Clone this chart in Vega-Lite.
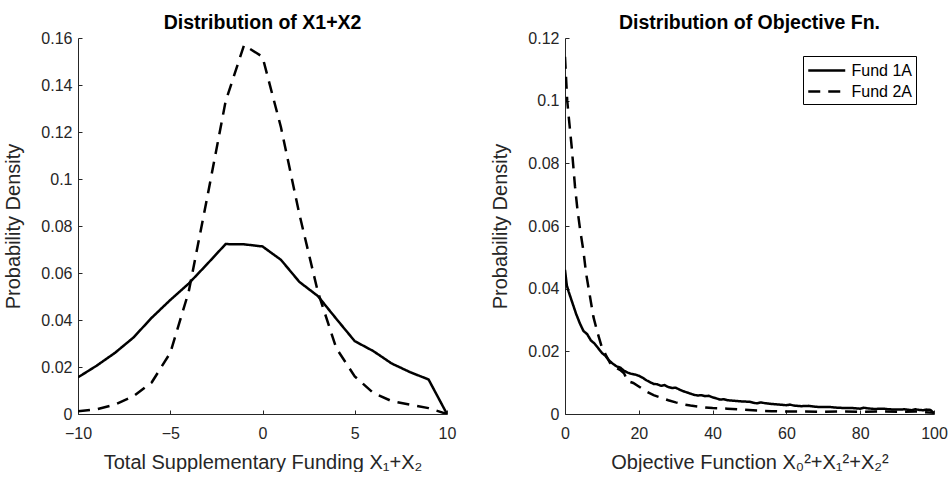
{
  "$schema": "https://vega.github.io/schema/vega-lite/v6.json",
  "background": "white",
  "padding": {"left": 3, "top": 12, "right": 5, "bottom": 0},
  "config": {
    "font": "Liberation Sans",
    "view": {"stroke": null},
    "axis": {
      "grid": false,
      "domainColor": "#262626",
      "tickColor": "#262626",
      "labelColor": "#262626",
      "titleColor": "#262626",
      "labelFontSize": 16,
      "titleFontSize": 20,
      "titleFontWeight": "normal",
      "tickSize": -4,
      "labelFlush": false,
      "labelOverlap": false,
      "domainWidth": 1
    },
    "axisX": {"labelPadding": 15, "titlePadding": 11},
    "axisY": {"labelPadding": 10, "titlePadding": 17},
    "title": {"fontSize": 19.5, "fontWeight": "bold", "color": "black", "anchor": "middle", "offset": -3},
    "concat": {"spacing": 34}
  },
  "resolve": {"scale": {"strokeDash": "independent"}, "legend": {"strokeDash": "independent"}},
  "datasets": {
    "left": [
      {"series": "Fund 1A", "x": -10, "y": 0.0156},
      {"series": "Fund 1A", "x": -9, "y": 0.0205},
      {"series": "Fund 1A", "x": -8, "y": 0.026},
      {"series": "Fund 1A", "x": -7, "y": 0.0325},
      {"series": "Fund 1A", "x": -6, "y": 0.041},
      {"series": "Fund 1A", "x": -5, "y": 0.0485},
      {"series": "Fund 1A", "x": -4, "y": 0.0555},
      {"series": "Fund 1A", "x": -3, "y": 0.0638},
      {"series": "Fund 1A", "x": -2, "y": 0.0723},
      {"series": "Fund 1A", "x": -1, "y": 0.0722},
      {"series": "Fund 1A", "x": 0, "y": 0.0713},
      {"series": "Fund 1A", "x": 1, "y": 0.0656},
      {"series": "Fund 1A", "x": 2, "y": 0.0562},
      {"series": "Fund 1A", "x": 3, "y": 0.0502},
      {"series": "Fund 1A", "x": 4, "y": 0.0405},
      {"series": "Fund 1A", "x": 5, "y": 0.031},
      {"series": "Fund 1A", "x": 6, "y": 0.0268},
      {"series": "Fund 1A", "x": 7, "y": 0.0215},
      {"series": "Fund 1A", "x": 8, "y": 0.0178},
      {"series": "Fund 1A", "x": 9, "y": 0.0147},
      {"series": "Fund 1A", "x": 10, "y": 0.0},
      {"series": "Fund 2A", "x": -10, "y": 0.0012},
      {"series": "Fund 2A", "x": -9, "y": 0.002},
      {"series": "Fund 2A", "x": -8, "y": 0.004},
      {"series": "Fund 2A", "x": -7, "y": 0.0075},
      {"series": "Fund 2A", "x": -6, "y": 0.0135},
      {"series": "Fund 2A", "x": -5, "y": 0.026},
      {"series": "Fund 2A", "x": -4, "y": 0.052},
      {"series": "Fund 2A", "x": -3, "y": 0.092},
      {"series": "Fund 2A", "x": -2, "y": 0.133},
      {"series": "Fund 2A", "x": -1, "y": 0.157},
      {"series": "Fund 2A", "x": 0, "y": 0.152},
      {"series": "Fund 2A", "x": 1, "y": 0.122},
      {"series": "Fund 2A", "x": 2, "y": 0.085},
      {"series": "Fund 2A", "x": 3, "y": 0.052},
      {"series": "Fund 2A", "x": 4, "y": 0.028},
      {"series": "Fund 2A", "x": 5, "y": 0.016},
      {"series": "Fund 2A", "x": 6, "y": 0.009},
      {"series": "Fund 2A", "x": 7, "y": 0.0055},
      {"series": "Fund 2A", "x": 8, "y": 0.004},
      {"series": "Fund 2A", "x": 9, "y": 0.0025},
      {"series": "Fund 2A", "x": 10, "y": 0.0}
    ],
    "right": [
      {"series": "Fund 1A", "x": 0, "y": 0.046},
      {"series": "Fund 1A", "x": 0.5, "y": 0.041},
      {"series": "Fund 1A", "x": 1, "y": 0.039},
      {"series": "Fund 1A", "x": 2, "y": 0.0355},
      {"series": "Fund 1A", "x": 3, "y": 0.032},
      {"series": "Fund 1A", "x": 4, "y": 0.029},
      {"series": "Fund 1A", "x": 5, "y": 0.0265},
      {"series": "Fund 1A", "x": 6, "y": 0.0255},
      {"series": "Fund 1A", "x": 7, "y": 0.0235},
      {"series": "Fund 1A", "x": 8, "y": 0.0225},
      {"series": "Fund 1A", "x": 9, "y": 0.021},
      {"series": "Fund 1A", "x": 10, "y": 0.0195},
      {"series": "Fund 1A", "x": 11, "y": 0.0185},
      {"series": "Fund 1A", "x": 12, "y": 0.017},
      {"series": "Fund 1A", "x": 13, "y": 0.016},
      {"series": "Fund 1A", "x": 14, "y": 0.0152},
      {"series": "Fund 1A", "x": 15, "y": 0.0148},
      {"series": "Fund 1A", "x": 16, "y": 0.0138},
      {"series": "Fund 1A", "x": 17, "y": 0.0132},
      {"series": "Fund 1A", "x": 18, "y": 0.0128},
      {"series": "Fund 1A", "x": 19, "y": 0.0126},
      {"series": "Fund 1A", "x": 20, "y": 0.0122},
      {"series": "Fund 1A", "x": 21, "y": 0.0116},
      {"series": "Fund 1A", "x": 22, "y": 0.0108},
      {"series": "Fund 1A", "x": 23, "y": 0.0102},
      {"series": "Fund 1A", "x": 24, "y": 0.0096},
      {"series": "Fund 1A", "x": 25, "y": 0.0095},
      {"series": "Fund 1A", "x": 26, "y": 0.009},
      {"series": "Fund 1A", "x": 27, "y": 0.0092},
      {"series": "Fund 1A", "x": 28, "y": 0.0086},
      {"series": "Fund 1A", "x": 29, "y": 0.0083},
      {"series": "Fund 1A", "x": 30, "y": 0.0084},
      {"series": "Fund 1A", "x": 31, "y": 0.0078},
      {"series": "Fund 1A", "x": 32, "y": 0.0073},
      {"series": "Fund 1A", "x": 33, "y": 0.0069},
      {"series": "Fund 1A", "x": 34, "y": 0.0065},
      {"series": "Fund 1A", "x": 35, "y": 0.0061},
      {"series": "Fund 1A", "x": 36, "y": 0.0059},
      {"series": "Fund 1A", "x": 37, "y": 0.006},
      {"series": "Fund 1A", "x": 38, "y": 0.0057},
      {"series": "Fund 1A", "x": 39, "y": 0.0058},
      {"series": "Fund 1A", "x": 40, "y": 0.0053},
      {"series": "Fund 1A", "x": 41, "y": 0.005},
      {"series": "Fund 1A", "x": 42, "y": 0.0046},
      {"series": "Fund 1A", "x": 43, "y": 0.0047},
      {"series": "Fund 1A", "x": 44, "y": 0.0044},
      {"series": "Fund 1A", "x": 45, "y": 0.0043},
      {"series": "Fund 1A", "x": 46, "y": 0.0042},
      {"series": "Fund 1A", "x": 48, "y": 0.004},
      {"series": "Fund 1A", "x": 50, "y": 0.0039},
      {"series": "Fund 1A", "x": 51, "y": 0.0036},
      {"series": "Fund 1A", "x": 52, "y": 0.0034},
      {"series": "Fund 1A", "x": 53, "y": 0.0037},
      {"series": "Fund 1A", "x": 54, "y": 0.0035},
      {"series": "Fund 1A", "x": 56, "y": 0.0032},
      {"series": "Fund 1A", "x": 58, "y": 0.003},
      {"series": "Fund 1A", "x": 60, "y": 0.0028},
      {"series": "Fund 1A", "x": 61, "y": 0.003},
      {"series": "Fund 1A", "x": 62, "y": 0.0027},
      {"series": "Fund 1A", "x": 64, "y": 0.0025},
      {"series": "Fund 1A", "x": 66, "y": 0.0026},
      {"series": "Fund 1A", "x": 68, "y": 0.0023},
      {"series": "Fund 1A", "x": 70, "y": 0.0022},
      {"series": "Fund 1A", "x": 72, "y": 0.0022},
      {"series": "Fund 1A", "x": 74, "y": 0.002},
      {"series": "Fund 1A", "x": 76, "y": 0.0019},
      {"series": "Fund 1A", "x": 78, "y": 0.0019},
      {"series": "Fund 1A", "x": 80, "y": 0.0017},
      {"series": "Fund 1A", "x": 81, "y": 0.002},
      {"series": "Fund 1A", "x": 82, "y": 0.0018},
      {"series": "Fund 1A", "x": 84, "y": 0.0016},
      {"series": "Fund 1A", "x": 86, "y": 0.0017},
      {"series": "Fund 1A", "x": 88, "y": 0.0015},
      {"series": "Fund 1A", "x": 90, "y": 0.0014},
      {"series": "Fund 1A", "x": 92, "y": 0.0015},
      {"series": "Fund 1A", "x": 94, "y": 0.0012},
      {"series": "Fund 1A", "x": 95, "y": 0.0015},
      {"series": "Fund 1A", "x": 96, "y": 0.0013},
      {"series": "Fund 1A", "x": 97, "y": 0.0012},
      {"series": "Fund 1A", "x": 98, "y": 0.0014},
      {"series": "Fund 1A", "x": 99, "y": 0.0013},
      {"series": "Fund 1A", "x": 100, "y": 0.0003},
      {"series": "Fund 2A", "x": 0, "y": 0.114},
      {"series": "Fund 2A", "x": 0.3, "y": 0.107},
      {"series": "Fund 2A", "x": 0.6, "y": 0.1},
      {"series": "Fund 2A", "x": 1, "y": 0.095},
      {"series": "Fund 2A", "x": 1.8, "y": 0.0854},
      {"series": "Fund 2A", "x": 2.7, "y": 0.0727},
      {"series": "Fund 2A", "x": 3.4, "y": 0.065},
      {"series": "Fund 2A", "x": 4.1, "y": 0.0588},
      {"series": "Fund 2A", "x": 5, "y": 0.052},
      {"series": "Fund 2A", "x": 5.7, "y": 0.045},
      {"series": "Fund 2A", "x": 6.7, "y": 0.038},
      {"series": "Fund 2A", "x": 7.7, "y": 0.031},
      {"series": "Fund 2A", "x": 8.8, "y": 0.026},
      {"series": "Fund 2A", "x": 9.9, "y": 0.0216},
      {"series": "Fund 2A", "x": 11, "y": 0.019},
      {"series": "Fund 2A", "x": 12.2, "y": 0.0163},
      {"series": "Fund 2A", "x": 13.5, "y": 0.015},
      {"series": "Fund 2A", "x": 14.9, "y": 0.0141},
      {"series": "Fund 2A", "x": 16, "y": 0.013},
      {"series": "Fund 2A", "x": 17, "y": 0.0105},
      {"series": "Fund 2A", "x": 18.5, "y": 0.0099},
      {"series": "Fund 2A", "x": 20, "y": 0.0088},
      {"series": "Fund 2A", "x": 22, "y": 0.0072},
      {"series": "Fund 2A", "x": 24, "y": 0.006},
      {"series": "Fund 2A", "x": 26, "y": 0.0052},
      {"series": "Fund 2A", "x": 28, "y": 0.0044},
      {"series": "Fund 2A", "x": 30, "y": 0.0037},
      {"series": "Fund 2A", "x": 32, "y": 0.0031},
      {"series": "Fund 2A", "x": 34, "y": 0.0027},
      {"series": "Fund 2A", "x": 36, "y": 0.0024},
      {"series": "Fund 2A", "x": 38, "y": 0.0021},
      {"series": "Fund 2A", "x": 40, "y": 0.0019},
      {"series": "Fund 2A", "x": 44, "y": 0.0017},
      {"series": "Fund 2A", "x": 48, "y": 0.0014},
      {"series": "Fund 2A", "x": 52, "y": 0.0011},
      {"series": "Fund 2A", "x": 56, "y": 0.0009},
      {"series": "Fund 2A", "x": 60, "y": 0.0008},
      {"series": "Fund 2A", "x": 65, "y": 0.0008},
      {"series": "Fund 2A", "x": 70, "y": 0.0007},
      {"series": "Fund 2A", "x": 75, "y": 0.0008},
      {"series": "Fund 2A", "x": 80, "y": 0.0007},
      {"series": "Fund 2A", "x": 85, "y": 0.0008},
      {"series": "Fund 2A", "x": 90, "y": 0.0007},
      {"series": "Fund 2A", "x": 95, "y": 0.0008},
      {"series": "Fund 2A", "x": 100, "y": 0.0004}
    ]
  },
  "hconcat": [
    {
      "width": 369,
      "height": 376,
      "title": "Distribution of X1+X2",
      "data": {"name": "left"},
      "mark": {"type": "line", "color": "black", "strokeWidth": 2.5, "clip": true},
      "encoding": {
        "x": {"field": "x", "type": "quantitative", "scale": {"domain": [-10, 10], "nice": false},
              "axis": {"values": [-10, -5, 0, 5, 10], "title": "Total Supplementary Funding X₁+X₂"}},
        "y": {"field": "y", "type": "quantitative", "scale": {"domain": [0, 0.16], "nice": false},
              "axis": {"values": [0, 0.02, 0.04, 0.06, 0.08, 0.1, 0.12, 0.14, 0.16], "format": ".2~f", "title": "Probability Density"}},
        "strokeDash": {"field": "series", "type": "nominal",
              "scale": {"domain": ["Fund 1A", "Fund 2A"], "range": [[1, 0], [12, 8]]}, "legend": null}
      }
    },
    {
      "width": 369,
      "height": 376,
      "title": "Distribution of Objective Fn.",
      "data": {"name": "right"},
      "mark": {"type": "line", "color": "black", "strokeWidth": 2.5, "clip": true},
      "encoding": {
        "x": {"field": "x", "type": "quantitative", "scale": {"domain": [0, 100], "nice": false},
              "axis": {"values": [0, 20, 40, 60, 80, 100], "title": "Objective Function X₀²+X₁²+X₂²"}},
        "y": {"field": "y", "type": "quantitative", "scale": {"domain": [0, 0.12], "nice": false},
              "axis": {"values": [0, 0.02, 0.04, 0.06, 0.08, 0.1, 0.12], "format": ".2~f", "title": "Probability Density"}},
        "strokeDash": {"field": "series", "type": "nominal",
              "scale": {"domain": ["Fund 1A", "Fund 2A"], "range": [[1, 0], [12, 8]]},
              "legend": {
                "title": null, "orient": "none", "legendX": 238, "legendY": 18,
                "strokeColor": "black", "fillColor": "white", "padding": 4,
                "symbolType": "M-1,0H3", "symbolSize": 342, "symbolStrokeWidth": 2.5,
                "symbolStrokeColor": "black", "labelFontSize": 16, "labelColor": "black",
                "rowPadding": 2, "labelOffset": 23.5
              }}
      }
    }
  ]
}
